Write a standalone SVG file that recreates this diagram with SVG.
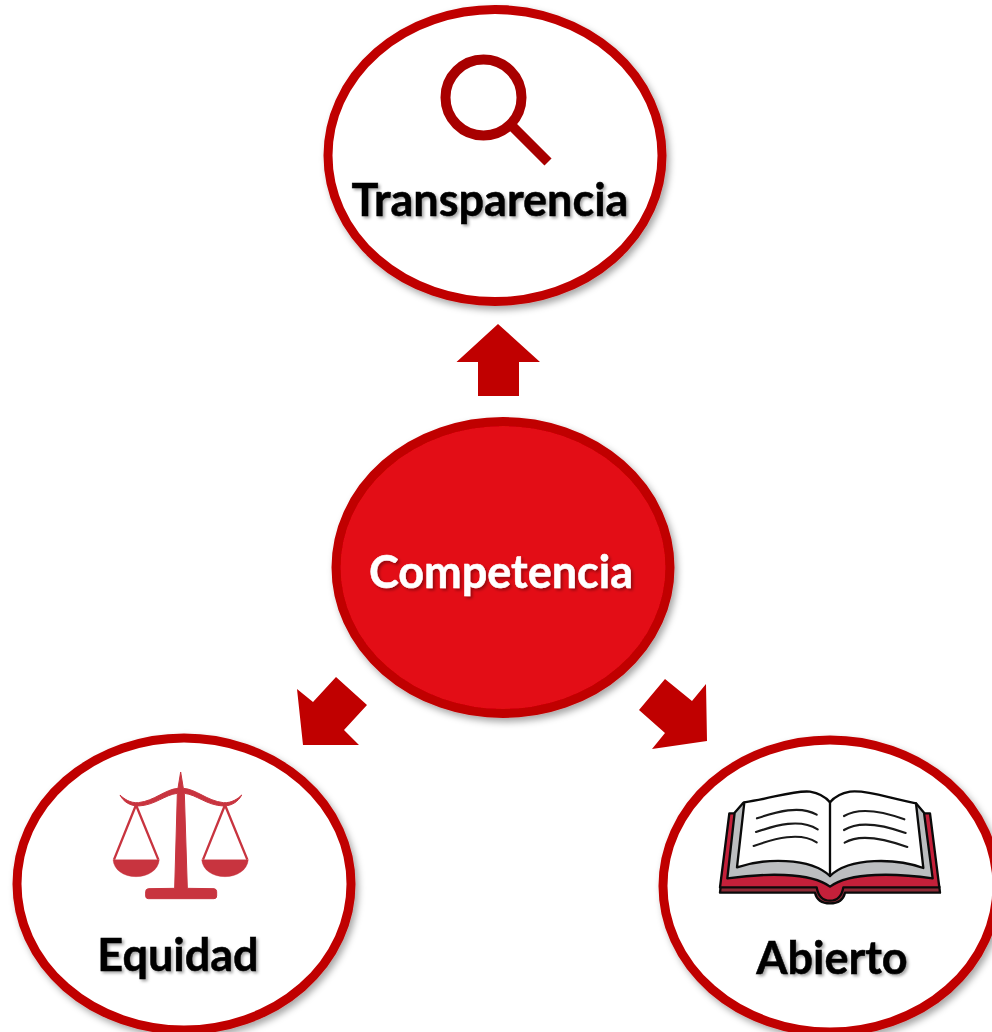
<svg xmlns="http://www.w3.org/2000/svg" width="992" height="1032" viewBox="0 0 992 1032">
<style>
.o{fill:#fff;stroke:#c00000;stroke-width:9}
.c{fill:#e30913;stroke:#c00000;stroke-width:9}
.a{fill:#c00000}
text{font-family:"Lato","Carlito","Liberation Sans",sans-serif;font-weight:700;font-size:45px;text-anchor:middle;filter:url(#ts);stroke-width:.5px}
.k{fill:#000;stroke:#000}.w{fill:#fff;stroke:#fff}
.bk{stroke:#0a0a0a;stroke-width:7;stroke-linejoin:round;stroke-linecap:round}
.ln{fill:none;stroke:#1a1a1a;stroke-width:6.5;stroke-linecap:round}
</style>
<defs>
<filter id="sh" x="-10%" y="-10%" width="125%" height="125%"><feDropShadow dx="3" dy="4" stdDeviation="3.5" flood-color="#000" flood-opacity=".35"/></filter>
<filter id="ts" x="-5%" y="-15%" width="110%" height="130%"><feDropShadow dx="2" dy="2" stdDeviation="1.5" flood-color="#000" flood-opacity=".35"/></filter>
</defs>
<g id="connectors">
<polygon class="a" points="498,324 540,362 519,362 519,396 478,396 478,362 456.500,362"/>
<polygon class="a" points="336,677 367,705 344,730 359,745 303,745 297,689 313,702"/>
<polygon class="a" points="665,679 692,701 706,684 707,741 652,749 665,733 639,710"/>
</g>
<g id="transparencia">
<ellipse class="o" cx="495" cy="155.500" rx="167" ry="146" filter="url(#sh)"/>
<circle cx="483.500" cy="97.500" r="38" fill="none" stroke="#a80000" stroke-width="10"/>
<line x1="512" y1="126" x2="548" y2="162" stroke="#a80000" stroke-width="10"/>
<text class="k" x="490" y="216">Transparencia</text>
</g>
<g id="competencia">
<ellipse class="c" cx="503" cy="567.500" rx="167" ry="146" filter="url(#sh)"/>
<text class="w" x="501" y="588">Competencia</text>
</g>
<g id="equidad">
<ellipse class="o" cx="184" cy="884" rx="167" ry="146" filter="url(#sh)"/>
<g transform="translate(90 760) scale(.33333)" fill="#c8343f" stroke="#c8343f">
<path stroke-width="3" d="M272 36 L280 85 C320 88 350 122 400 128 C425 130 445 115 455 105 C445 125 425 138 400 138 C350 136 320 104 283 100 L292 385 L372 386 Q380 387 380 395 L380 408 Q380 416 372 416 L175 416 Q167 416 167 408 L167 395 Q167 387 175 386 L254 385 L262 100 C225 104 195 136 145 138 C120 138 100 125 90 105 C100 115 120 130 145 128 C195 122 225 88 264 85 Z"/>
<path d="M69 299 L208 299 C205 330 175 350 138 350 C100 350 72 330 69 299 Z"/>
<path d="M335 299 L475 299 C472 330 442 350 405 350 C367 350 338 330 335 299 Z"/>
<path d="M138 135 L72 299 M138 135 L205 299 M405 135 L339 299 M405 135 L472 299" fill="none" stroke-width="7"/>
</g>
<text class="k" x="178" y="971">Equidad</text>
</g>
<g id="abierto">
<ellipse class="o" cx="830" cy="886" rx="167" ry="146" filter="url(#sh)"/>
<g transform="translate(700 770) scale(.33333)">
<path class="bk" fill="#8e2a36" d="M60 368 L345 368 C350 390 365 400 390 400 C415 400 430 390 435 368 L720 368 L718 350 L62 350 Z"/>
<path class="bk" fill="#c4203a" d="M88 130 L60 352 L350 352 C355 380 370 392 390 392 C410 392 425 380 430 352 L718 352 L690 130 Z"/>
<path class="bk" fill="#bcbec0" d="M130 98 L104 128 L82 325 C190 310 330 305 390 350 C450 305 590 310 698 325 L672 128 L648 100 Z"/>
<path class="bk" fill="#fff" d="M133 97 C220 85 280 60 330 65 C360 70 380 85 390 97 C400 85 420 70 450 65 C500 60 570 85 648 100 L670 294 C590 265 450 260 390 318 C330 260 190 265 111 292 Z"/>
<path class="bk" fill="none" d="M390 97 L390 318"/>
<path class="ln" d="M171 145 C230 125 300 105 350 134"/>
<path class="ln" d="M168 186 C230 165 300 145 353 178"/>
<path class="ln" d="M161 228 C225 205 300 185 350 217"/>
<path class="ln" d="M432 138 C480 110 550 125 613 148"/>
<path class="ln" d="M432 180 C480 150 550 165 617 189"/>
<path class="ln" d="M434 218 C480 190 550 205 622 231"/>
</g>
<text class="k" x="832" y="974">Abierto</text>
</g>
</svg>
